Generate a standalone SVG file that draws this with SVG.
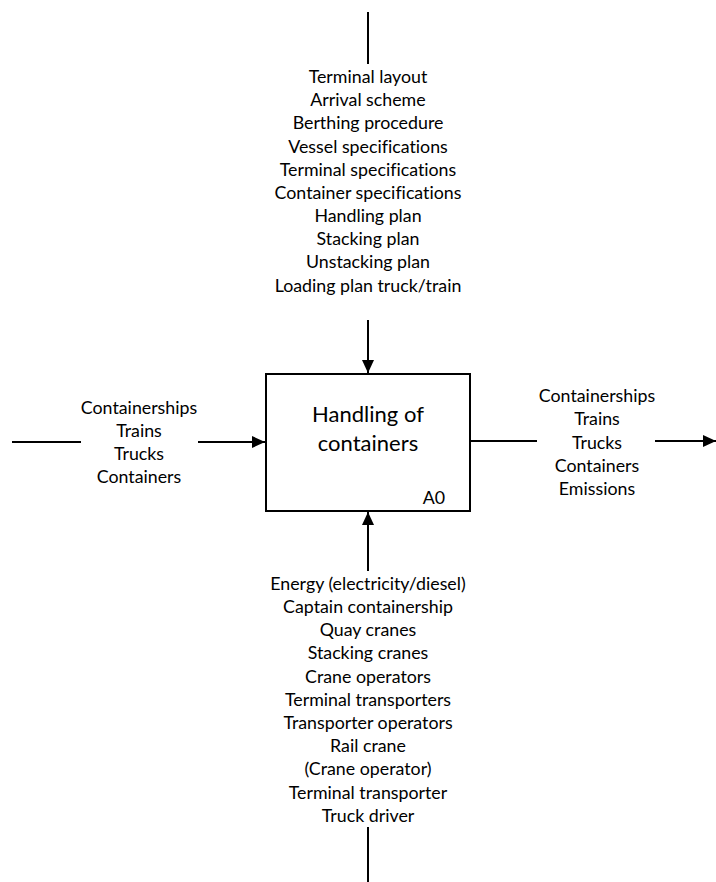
<svg xmlns="http://www.w3.org/2000/svg" width="716" height="882" viewBox="0 0 716 882">
  <style>
    text { font-family: Lato, "Liberation Sans", sans-serif; fill: #000; font-variant-ligatures: none; font-feature-settings: "liga" 0; }
    .lbl { font-size: 17.8px; text-anchor: middle; }
    .title { font-size: 22px; text-anchor: middle; }
    .code { font-size: 17.8px; text-anchor: end; }
    .wire { stroke: #000; stroke-width: 2; fill: none; }
    .box { stroke: #000; stroke-width: 2; fill: #fff; }
  </style>
  <defs>
    <marker id="head" markerUnits="userSpaceOnUse" markerWidth="13" markerHeight="12" refX="13" refY="6" orient="auto">
      <path d="M0,0 L13,6 L0,12 Z" fill="#000"/>
    </marker>
  </defs>

  <!-- activity box A0 -->
  <g id="node-a0">
    <rect class="box" x="266" y="374" width="204" height="137"/>
    <text class="title" x="368" y="422">Handling of</text>
    <text class="title" x="368" y="451">containers</text>
    <text class="code" x="445" y="504">A0</text>
  </g>

  <!-- ICOM arrows -->
  <g id="connectors">
    <line class="wire" x1="368" y1="12" x2="368" y2="64"/>
    <line class="wire" x1="368" y1="320" x2="368" y2="373" marker-end="url(#head)"/>
    <line class="wire" x1="368" y1="571" x2="368" y2="512" marker-end="url(#head)"/>
    <line class="wire" x1="368" y1="827" x2="368" y2="882"/>
    <line class="wire" x1="12" y1="442" x2="81" y2="442"/>
    <line class="wire" x1="198" y1="442" x2="265" y2="442" marker-end="url(#head)"/>
    <line class="wire" x1="471" y1="441" x2="537" y2="441"/>
    <line class="wire" x1="655" y1="441" x2="716" y2="441" marker-end="url(#head)"/>
  </g>

  <!-- controls -->
  <g id="controls">
    <text class="lbl" x="368" y="83">Terminal layout</text>
    <text class="lbl" x="368" y="106">Arrival scheme</text>
    <text class="lbl" x="368" y="129">Berthing procedure</text>
    <text class="lbl" x="368" y="153">Vessel specifications</text>
    <text class="lbl" x="368" y="176">Terminal specifications</text>
    <text class="lbl" x="368" y="199">Container specifications</text>
    <text class="lbl" x="368" y="222">Handling plan</text>
    <text class="lbl" x="368" y="245">Stacking plan</text>
    <text class="lbl" x="368" y="268">Unstacking plan</text>
    <text class="lbl" x="368" y="292">Loading plan truck/train</text>
  </g>

  <!-- inputs -->
  <g id="inputs">
    <text class="lbl" x="139" y="414">Containerships</text>
    <text class="lbl" x="139" y="437">Trains</text>
    <text class="lbl" x="139" y="460">Trucks</text>
    <text class="lbl" x="139" y="483">Containers</text>
  </g>

  <!-- outputs -->
  <g id="outputs">
    <text class="lbl" x="597" y="402">Containerships</text>
    <text class="lbl" x="597" y="425">Trains</text>
    <text class="lbl" x="597" y="449">Trucks</text>
    <text class="lbl" x="597" y="472">Containers</text>
    <text class="lbl" x="597" y="495">Emissions</text>
  </g>

  <!-- mechanisms -->
  <g id="mechanisms">
    <text class="lbl" x="368" y="590">Energy (electricity/diesel)</text>
    <text class="lbl" x="368" y="613">Captain containership</text>
    <text class="lbl" x="368" y="636">Quay cranes</text>
    <text class="lbl" x="368" y="659">Stacking cranes</text>
    <text class="lbl" x="368" y="683">Crane operators</text>
    <text class="lbl" x="368" y="706">Terminal transporters</text>
    <text class="lbl" x="368" y="729">Transporter operators</text>
    <text class="lbl" x="368" y="752">Rail crane</text>
    <text class="lbl" x="368" y="775">(Crane operator)</text>
    <text class="lbl" x="368" y="799">Terminal transporter</text>
    <text class="lbl" x="368" y="822">Truck driver</text>
  </g>
</svg>
